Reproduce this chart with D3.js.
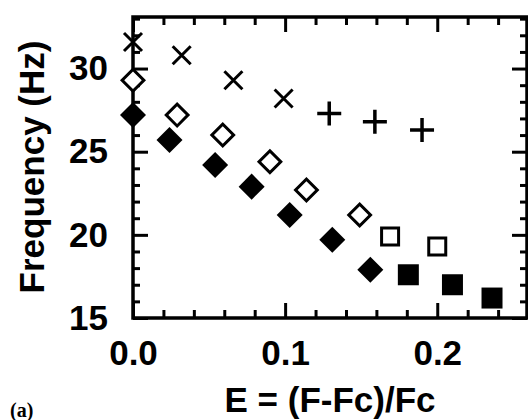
<!DOCTYPE html>
<html>
<head>
<meta charset="utf-8">
<script src="https://cdn.jsdelivr.net/npm/d3@7"></script>
<style>
  body { margin: 0; background: #fff; }
  svg { display: block; font-family: 'Liberation Sans', Arial, sans-serif; }
  .tick text { font-weight: bold; }
</style>
</head>
<body>
<div id="chart"></div>
<script>
// Data: E = (F-Fc)/Fc vs Frequency (Hz)
const crossE = [0, 0.032, 0.066, 0.099];
const crossF = [31.6, 30.8, 29.3, 28.2];
const plusE = [0.129, 0.159, 0.190];
const plusF = [27.3, 26.8, 26.3];
const openDiamondE = [0, 0.029, 0.059, 0.090, 0.114, 0.149];
const openDiamondF = [29.3, 27.2, 26.0, 24.4, 22.7, 21.2];
const filledDiamondE = [0, 0.024, 0.054, 0.078, 0.103, 0.131, 0.156];
const filledDiamondF = [27.2, 25.7, 24.2, 22.9, 21.2, 19.7, 17.9];
const openSquareE = [0.169, 0.200];
const openSquareF = [19.9, 19.3];
const filledSquareE = [0.181, 0.210, 0.236];
const filledSquareF = [17.6, 17.0, 16.2];

const xMajor = [0, 0.1, 0.2];
const xMinor = [0.02, 0.04, 0.06, 0.08, 0.12, 0.14, 0.16, 0.18, 0.22, 0.24];
const yMajor = [15, 20, 25, 30];
const yMinor = [16, 17, 18, 19, 21, 22, 23, 24, 26, 27, 28, 29, 31, 32, 33];

// Base positioning
var margin = { top: 17, bottom: 102, left: 133, right: 1 },
  width = 528 - margin.left - margin.right,
  height = 420 - margin.top - margin.bottom;

const svg = d3.select('#chart')
  .append('svg')
  .attr('width', 528)
  .attr('height', 420);

const g = svg.append('g')
  .attr('transform', 'translate(' + margin.left + ',' + margin.top + ')');

const x = d3.scaleLinear().domain([0, 0.259]).range([0, width]);
const y = d3.scaleLinear().domain([15, 33.1]).range([height, 0]);

// custom line symbols
const plusSym = {
  draw(ctx, size) {
    const r = Math.sqrt(size) / 2;
    ctx.moveTo(-r, 0); ctx.lineTo(r, 0);
    ctx.moveTo(0, -r); ctx.lineTo(0, r);
  }
};
const crossSym = {
  draw(ctx, size) {
    const r = Math.sqrt(size) / 2;
    ctx.moveTo(-r, -r); ctx.lineTo(r, r);
    ctx.moveTo(-r, r); ctx.lineTo(r, -r);
  }
};

const series = [
  { e: crossE, f: crossF, type: crossSym, size: 18 * 18, fill: 'none', sw: 3, rot: 0 },
  { e: plusE, f: plusF, type: plusSym, size: 24 * 24, fill: 'none', sw: 3.5, rot: 0 },
  { e: openDiamondE, f: openDiamondF, type: d3.symbolSquare, size: 237, fill: '#fff', sw: 3, rot: 45 },
  { e: filledDiamondE, f: filledDiamondF, type: d3.symbolSquare, size: 338, fill: '#000', sw: 0, rot: 45 },
  { e: openSquareE, f: openSquareF, type: d3.symbolSquare, size: 289, fill: '#fff', sw: 3, rot: 0 },
  { e: filledSquareE, f: filledSquareF, type: d3.symbolSquare, size: 441, fill: '#000', sw: 0, rot: 0 },
];

// axes: major + minor ticks, inward on all four sides
function styleAxis(sel) {
  sel.select('.domain').remove();
  sel.selectAll('.tick line').attr('stroke', '#000').attr('stroke-width', 3);
}

g.append('g')
  .attr('transform', 'translate(0,' + height + ')')
  .call(d3.axisBottom(x).tickValues(xMajor).tickSizeInner(-15).tickSizeOuter(0)
    .tickPadding(22).tickFormat(d3.format('.1f')))
  .call(styleAxis)
  .call(s => s.selectAll('.tick text').attr('font-size', 35).attr('fill', '#000'));
g.append('g')
  .attr('transform', 'translate(0,' + height + ')')
  .call(d3.axisBottom(x).tickValues(xMinor).tickSizeInner(-8).tickSizeOuter(0).tickFormat(''))
  .call(styleAxis);
g.append('g')
  .call(d3.axisTop(x).tickValues(xMajor).tickSizeInner(-15).tickSizeOuter(0).tickFormat(''))
  .call(styleAxis);
g.append('g')
  .call(d3.axisTop(x).tickValues(xMinor).tickSizeInner(-8).tickSizeOuter(0).tickFormat(''))
  .call(styleAxis);

g.append('g')
  .call(d3.axisLeft(y).tickValues(yMajor).tickSizeInner(-15).tickSizeOuter(0).tickPadding(25))
  .call(styleAxis)
  .call(s => s.selectAll('.tick text').attr('font-size', 35).attr('fill', '#000'));
g.append('g')
  .call(d3.axisLeft(y).tickValues(yMinor).tickSizeInner(-7).tickSizeOuter(0).tickFormat(''))
  .call(styleAxis);
g.append('g')
  .attr('transform', 'translate(' + width + ',0)')
  .call(d3.axisRight(y).tickValues(yMajor).tickSizeInner(-15).tickSizeOuter(0).tickFormat(''))
  .call(styleAxis);
g.append('g')
  .attr('transform', 'translate(' + width + ',0)')
  .call(d3.axisRight(y).tickValues(yMinor).tickSizeInner(-7).tickSizeOuter(0).tickFormat(''))
  .call(styleAxis);

// frame
g.append('rect')
  .attr('x', 0).attr('y', 0)
  .attr('width', width).attr('height', height)
  .attr('fill', 'none')
  .attr('stroke', '#000')
  .attr('stroke-width', 3.5);

// markers
series.forEach(s => {
  const sym = d3.symbol().type(s.type).size(s.size);
  g.append('g')
    .selectAll('path')
    .data(s.e.map((e, i) => ({ e: e, f: s.f[i] })))
    .enter()
    .append('path')
    .attr('transform', d => 'translate(' + x(d.e) + ',' + y(d.f) + ') rotate(' + s.rot + ')')
    .attr('d', sym)
    .attr('fill', s.fill)
    .attr('stroke', '#000')
    .attr('stroke-width', s.sw);
});

// axis labels
svg.append('text')
  .attr('x', 330)
  .attr('y', 412)
  .attr('text-anchor', 'middle')
  .attr('font-size', 35)
  .attr('font-weight', 'bold')
  .text('E = (F-Fc)/Fc');

svg.append('text')
  .attr('transform', 'translate(44,167) rotate(-90)')
  .attr('text-anchor', 'middle')
  .attr('font-size', 35)
  .attr('font-weight', 'bold')
  .text('Frequency (Hz)');

svg.append('text')
  .attr('x', 10)
  .attr('y', 417)
  .attr('font-family', "'Liberation Serif', 'Times New Roman', serif")
  .attr('font-size', 20)
  .attr('font-weight', 'bold')
  .text('(a)');
</script>
</body>
</html>
